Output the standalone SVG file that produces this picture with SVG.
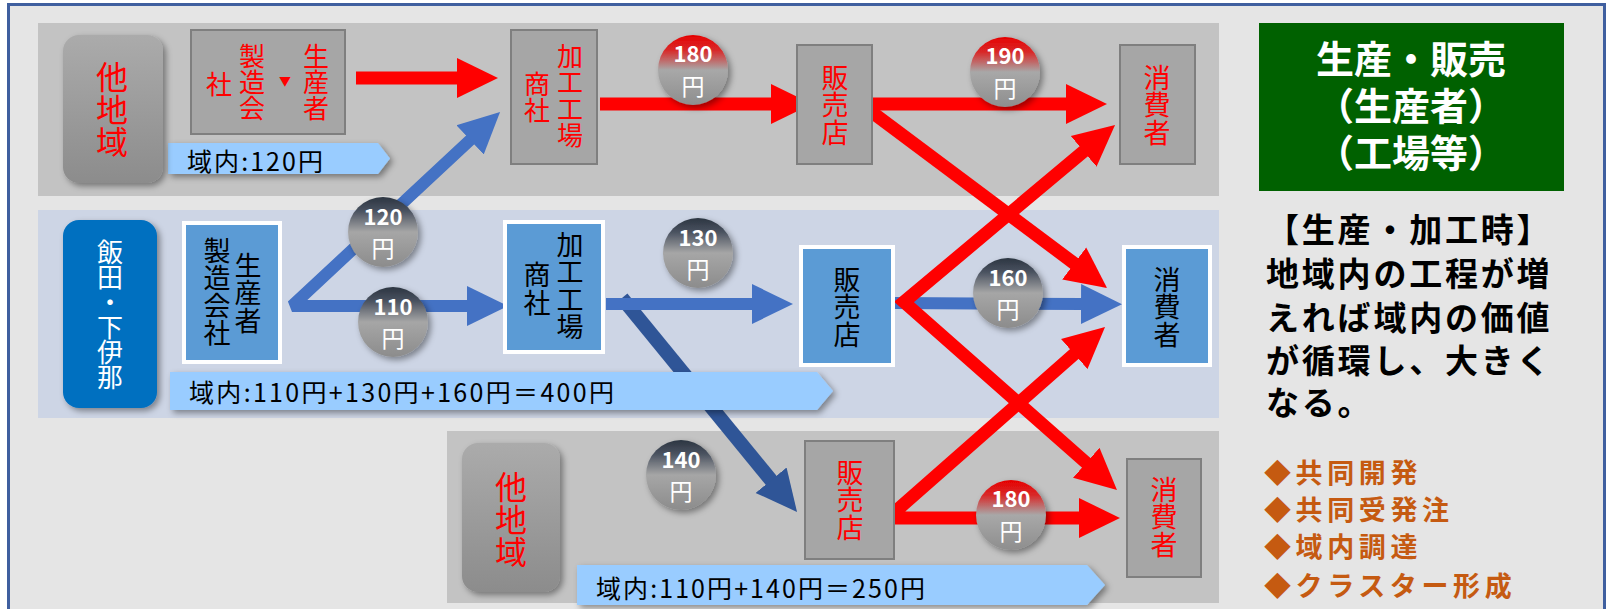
<svg xmlns="http://www.w3.org/2000/svg" width="1608" height="609" viewBox="0 0 1608 609">
<style>
text{font-family:"Noto Sans CJK JP","Noto Sans",sans-serif}
.v{writing-mode:vertical-rl;text-anchor:middle}
.rd{fill:#ff0000;font-size:26px}
.rd27{fill:#ff0000;font-size:27px;letter-spacing:0.5px}
.rd32{fill:#ff0000;font-size:32px;letter-spacing:0.5px}
.bk{fill:#000;font-size:27px;letter-spacing:0.5px}
.wt{fill:#fff;font-size:26px;letter-spacing:-1px}
.gnode{fill:#a6a6a6;stroke:#7f7f7f;stroke-width:2}
.bnode{fill:#5b9bd5;stroke:#fff;stroke-width:4}
.lbl{fill:#99ccff}
.lt{fill:#000;font-size:25px}
.num{fill:#fff;font-size:22px;font-weight:bold;text-anchor:middle}
.yen{fill:#fff;font-size:23px;text-anchor:middle}
.red{fill:none;stroke:#ff0000;stroke-width:13;stroke-linejoin:miter}
.blue{fill:none;stroke:#4472c4;stroke-width:12;stroke-linejoin:bevel}
.dblue{fill:none;stroke:#2f5597;stroke-width:14}
.side{fill:#000;font-size:33px;font-weight:bold;letter-spacing:2.8px}
.org{fill:#c55a11;font-size:27px;font-weight:bold;letter-spacing:4.6px}
.grn{fill:#fff;font-size:38px;font-weight:bold;text-anchor:middle}
</style>
<defs>
<filter id="sh" x="-20%" y="-20%" width="150%" height="150%">
<feDropShadow dx="3" dy="3" stdDeviation="3" flood-color="#000" flood-opacity="0.4"/>
</filter>
<linearGradient id="gbox" x1="0" y1="0" x2="0" y2="1">
<stop offset="0" stop-color="#ababab"/><stop offset="1" stop-color="#8c8c8c"/>
</linearGradient>
<linearGradient id="gred" x1="0" y1="0" x2="0" y2="1">
<stop offset="0" stop-color="#e60000"/><stop offset="0.22" stop-color="#d82a2a"/><stop offset="0.5" stop-color="#a8a8a8"/><stop offset="1" stop-color="#8e8e8e"/>
</linearGradient>
<linearGradient id="gdark" x1="0" y1="0" x2="0" y2="1">
<stop offset="0" stop-color="#2c3541"/><stop offset="0.2" stop-color="#4a5260"/><stop offset="0.5" stop-color="#a6a6a6"/><stop offset="1" stop-color="#8c8c8c"/>
</linearGradient>
<marker id="hr" markerUnits="userSpaceOnUse" viewBox="0 -21 42 42" markerWidth="42" markerHeight="42" refX="1" refY="0" orient="auto-start-reverse">
<path d="M0,-20 L41,0 L0,20 z" fill="#ff0000"/>
</marker>
<marker id="hb" markerUnits="userSpaceOnUse" viewBox="0 -21 42 42" markerWidth="42" markerHeight="42" refX="1" refY="0" orient="auto-start-reverse">
<path d="M0,-20 L41,0 L0,20 z" fill="#4472c4"/>
</marker>
<marker id="hd" markerUnits="userSpaceOnUse" viewBox="0 -21 42 42" markerWidth="42" markerHeight="42" refX="1" refY="0" orient="auto">
<path d="M0,-20 L41,0 L0,20 z" fill="#2f5597"/>
</marker>
</defs>

<rect x="8.5" y="4.5" width="1596" height="640" fill="#e5e5e5" stroke="#3f5f9f" stroke-width="3"/>
<rect x="38" y="23" width="1181" height="173" fill="#c3c3c3"/>
<rect x="38" y="210" width="1181" height="208" fill="#cdd5e5"/>
<rect x="447" y="431" width="772" height="172" fill="#c3c3c3"/>

<g id="connectors">
<line class="dblue" x1="622" y1="298" x2="771.7" y2="481" marker-end="url(#hd)"/>
<path class="blue" d="M470.8,139.3 L292,306 L468,306" marker-start="url(#hb)" marker-end="url(#hb)"/>
<line class="blue" x1="606" y1="304" x2="753" y2="304" marker-end="url(#hb)"/>
<line class="blue" x1="893" y1="303" x2="1082" y2="304" marker-end="url(#hb)"/>
<line class="red" x1="356" y1="78" x2="458" y2="78" marker-end="url(#hr)"/>
<line class="red" x1="600" y1="104" x2="772" y2="104" marker-end="url(#hr)"/>
<line class="red" x1="865" y1="104" x2="1067" y2="104" marker-end="url(#hr)"/>
<line class="red" x1="865" y1="107" x2="1075" y2="264" marker-end="url(#hr)"/>
<path class="red" d="M1084.4,150.7 L904,302 L1087,463.5" marker-start="url(#hr)" marker-end="url(#hr)"/>
<path class="red" d="M1075,353.4 L888,518 L1080,518" marker-start="url(#hr)" marker-end="url(#hr)"/>
<g id="price-labels" filter="url(#sh)">
<circle cx="693" cy="70" r="35" fill="url(#gred)"/>
<circle cx="1005" cy="72" r="35" fill="url(#gred)"/>
<circle cx="1011" cy="515" r="35" fill="url(#gred)"/>
<circle cx="383" cy="232" r="35" fill="url(#gdark)"/>
<circle cx="393" cy="322" r="35" fill="url(#gdark)"/>
<circle cx="698" cy="253" r="35" fill="url(#gdark)"/>
<circle cx="1008" cy="293" r="35" fill="url(#gdark)"/>
<circle cx="681" cy="475" r="35" fill="url(#gdark)"/>
</g>
<text class="num" x="693" y="62">180</text><text class="yen" x="693" y="95">円</text>
<text class="num" x="1005" y="64">190</text><text class="yen" x="1005" y="97">円</text>
<text class="num" x="1011" y="507">180</text><text class="yen" x="1011" y="540">円</text>
<text class="num" x="383" y="225">120</text><text class="yen" x="383" y="257">円</text>
<text class="num" x="393" y="315">110</text><text class="yen" x="393" y="347">円</text>
<text class="num" x="698" y="246">130</text><text class="yen" x="698" y="278">円</text>
<text class="num" x="1008" y="286">160</text><text class="yen" x="1008" y="318">円</text>
<text class="num" x="681" y="468">140</text><text class="yen" x="681" y="500">円</text>
</g>

<g id="sum-labels" filter="url(#sh)">
<polygon class="lbl" points="168,143 378,143 390,158.5 378,174 168,174"/>
<polygon class="lbl" points="170,372 817,372 833,391 817,410 170,410"/>
<polygon class="lbl" points="577,565 1087,565 1105,585 1087,605 577,605"/>
</g>
<text class="lt" x="187" y="171" textLength="136" lengthAdjust="spacing">域内:120円</text>
<text class="lt" x="189" y="402" textLength="425" lengthAdjust="spacing">域内:110円+130円+160円＝400円</text>
<text class="lt" x="596" y="598" textLength="329" lengthAdjust="spacing">域内:110円+140円＝250円</text>

<g id="region-top">
<rect x="63" y="35" width="100" height="148" rx="16" fill="url(#gbox)" filter="url(#sh)"/>
<text class="v rd32" x="112" y="110">他地域</text>
</g>
<g id="region-bottom">
<rect x="462" y="443" width="98" height="149" rx="16" fill="url(#gbox)" filter="url(#sh)"/>
<text class="v rd32" x="511" y="520">他地域</text>
</g>
<g id="region-iida">
<rect x="63" y="220" width="94" height="188" rx="16" fill="#0070c0" filter="url(#sh)"/>
<text class="v wt" x="110" y="314">飯田・下伊那</text>
</g>

<g id="top-producer">
<rect class="gnode" x="191" y="30" width="154" height="104"/>
<text class="v rd" x="316" y="82">生産者</text>
<text x="285" y="86" fill="#ff0000" font-size="12" text-anchor="middle">▼</text>
<text class="v rd" x="252" y="82">製造会</text>
<text class="v rd" x="219" y="84">社</text>
</g>
<g id="top-factory">
<rect class="gnode" x="511" y="30" width="86" height="134"/>
<text class="v rd27" x="570" y="96" style="font-size:26px">加工工場</text>
<text class="v rd" x="537" y="97">商社</text>
</g>
<g id="top-shop">
<rect class="gnode" x="797" y="45" width="75" height="119"/>
<text class="v rd27" x="835" y="105">販売店</text>
</g>
<g id="top-consumer">
<rect class="gnode" x="1120" y="45" width="75" height="119"/>
<text class="v rd27" x="1157" y="105">消費者</text>
</g>

<g id="mid-producer">
<rect class="bnode" x="184" y="223" width="96" height="139"/>
<text class="v bk" x="248" y="293">生産者</text>
<text class="v bk" x="217" y="292">製造会社</text>
</g>
<g id="mid-factory">
<rect class="bnode" x="505" y="222" width="98" height="130"/>
<text class="v bk" x="570" y="286">加工工場</text>
<text class="v bk" x="537" y="289">商社</text>
</g>
<g id="mid-shop">
<rect class="bnode" x="801" y="247" width="92" height="118"/>
<text class="v bk" x="847" y="307">販売店</text>
</g>
<g id="mid-consumer">
<rect class="bnode" x="1124" y="247" width="86" height="118"/>
<text class="v bk" x="1167" y="307">消費者</text>
</g>

<g id="bottom-shop">
<rect class="gnode" x="805" y="441" width="89" height="118"/>
<text class="v rd27" x="850" y="500">販売店</text>
</g>
<g id="bottom-consumer">
<rect class="gnode" x="1127" y="459" width="74" height="118"/>
<text class="v rd27" x="1164" y="517">消費者</text>
</g>

<g id="legend">
<rect x="1259" y="23" width="305" height="168" fill="#006100"/>
<text class="grn" x="1411" y="73">生産・販売</text>
<text class="grn" x="1411" y="120">（生産者）</text>
<text class="grn" x="1411" y="167">（工場等）</text>
</g>
<g id="note">
<text class="side" x="1266" y="242">【生産・加工時】</text>
<text class="side" x="1266" y="286">地域内の工程が増</text>
<text class="side" x="1266" y="330">えれば域内の価値</text>
<text class="side" x="1266" y="373">が循環し、大きく</text>
<text class="side" x="1266" y="415">なる。</text>
</g>
<g id="measures">
<text class="org" x="1264" y="483">◆共同開発</text>
<text class="org" x="1264" y="520">◆共同受発注</text>
<text class="org" x="1264" y="557">◆域内調達</text>
<text class="org" x="1264" y="596">◆クラスター形成</text>
</g>
</svg>
